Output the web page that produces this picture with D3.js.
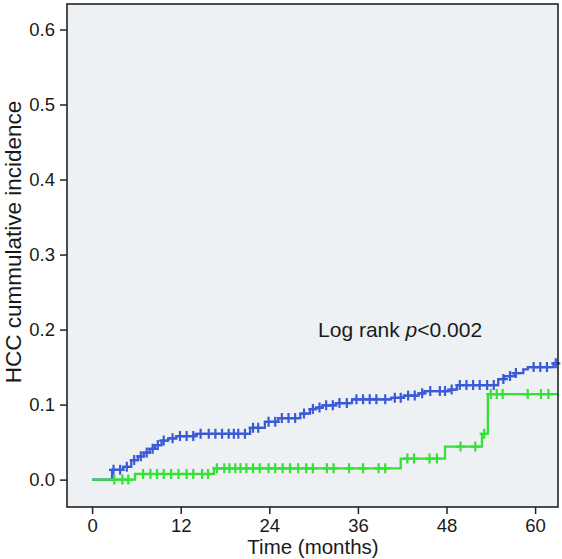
<!DOCTYPE html>
<html>
<head>
<meta charset="utf-8">
<script src="https://cdn.jsdelivr.net/npm/d3@7"></script>
<style>
  html, body { margin: 0; padding: 0; background: #ffffff; }
  svg { display: block; }
  text { font-family: "Liberation Sans", Arial, Helvetica, sans-serif; fill: #1a1a1a; }
</style>
</head>
<body>
<svg id="chart" width="562" height="559"></svg>
<script>
// ---------- data ----------
const xTicks = [0, 12, 24, 36, 48, 60];
const yTicks = [0.0, 0.1, 0.2, 0.3, 0.4, 0.5, 0.6];
const xTitle = "Time (months)";
const yTitle = "HCC cummulative incidence";

// Blue group: step times and cumulative incidence after each step
const blueStepTimes  = [0, 2.7, 4.2, 5.3, 6.2, 7.0, 7.8, 8.5, 9.4, 10.3, 11.4, 14.0, 21.4, 23.4, 25.2, 28.2, 29.5, 30.3, 31.2, 33.0, 35.2, 40.5, 42.2, 44.2, 45.0, 48.4, 49.4, 55.0, 55.8, 57.2, 58.4, 59.0, 62.5];
const blueStepValues = [0, 0.013, 0.017, 0.026, 0.031, 0.036, 0.041, 0.046, 0.052, 0.055, 0.058, 0.061, 0.069, 0.077, 0.082, 0.088, 0.094, 0.096, 0.099, 0.102, 0.107, 0.109, 0.112, 0.115, 0.118, 0.120, 0.126, 0.134, 0.138, 0.142, 0.147, 0.150, 0.155];
const blueCensored = [2.9, 3.8, 4.7, 5.7, 6.6, 7.4, 8.2, 8.9, 9.7, 10.9, 11.9, 12.8, 13.7, 14.7, 15.8, 16.7, 17.6, 18.5, 19.2, 19.8, 20.7, 21.8, 22.5, 23.9, 24.8, 25.7, 26.6, 27.5, 28.7, 29.9, 30.8, 31.7, 32.6, 33.5, 34.5, 35.8, 36.7, 37.6, 38.5, 39.7, 41.0, 41.8, 42.8, 43.7, 44.7, 45.8, 47.1, 47.8, 48.7, 49.8, 50.7, 51.6, 52.5, 53.5, 54.4, 55.7, 56.6, 57.4, 59.8, 60.7, 61.6, 62.8];

// Green group
const greenStepTimes  = [0, 5.8, 16.5, 41.8, 47.8, 52.8, 53.6, 63.1];
const greenStepValues = [0, 0.0075, 0.015, 0.028, 0.044, 0.061, 0.114, 0.114];
const greenCensored = [3.0, 4.1, 4.9, 6.9, 7.9, 8.8, 9.7, 10.7, 11.7, 12.8, 13.7, 14.9, 15.7, 16.9, 17.9, 18.6, 19.4, 20.1, 20.9, 21.8, 22.7, 23.9, 24.8, 25.8, 26.8, 27.9, 29.0, 29.9, 31.8, 32.7, 34.8, 36.7, 38.8, 39.7, 42.7, 43.6, 45.7, 46.7, 49.9, 51.9, 53.1, 54.0, 54.8, 55.6, 59.0, 60.8, 61.8];

const annotation = { pre: "Log rank ", italic: "p", post: "<0.002", t: 30.6, v: 0.19 };

// ---------- layout ----------
const svg = d3.select("#chart");
const frame = { left: 67, right: 558, top: 4, bottom: 507 };

const x = d3.scaleLinear().domain([-3.4, 63.1]).range([frame.left, frame.right]);
const y = d3.scaleLinear().domain([-0.0365, 0.634]).range([frame.bottom, frame.top]);

const blueColor = "#3a5ad8";
const greenColor = "#36e036";

// plot background
svg.append("rect")
  .attr("x", frame.left).attr("y", frame.top)
  .attr("width", frame.right - frame.left).attr("height", frame.bottom - frame.top)
  .attr("fill", "#edf1f4");

// axes
const xAxis = d3.axisBottom(x).tickValues(xTicks).tickFormat(d3.format("d")).tickSize(7).tickSizeOuter(0).tickPadding(5);
const yAxis = d3.axisLeft(y).tickValues(yTicks).tickFormat(d3.format(".1f")).tickSize(7).tickSizeOuter(0).tickPadding(5);

const gx = svg.append("g").attr("transform", `translate(0,${frame.bottom})`).call(xAxis);
const gy = svg.append("g").attr("transform", `translate(${frame.left},0)`).call(yAxis);
[gx, gy].forEach(g => {
  g.select(".domain").remove();
  g.selectAll(".tick line").attr("stroke", "#222").attr("stroke-width", 1.5);
  g.selectAll(".tick text").style("font-size", "18.5px").attr("fill", "#1a1a1a")
   .style("font-family", "'Liberation Sans', Arial, sans-serif");
});

// step helper
function stepFn(times, values) {
  return t => {
    let v = values[0];
    for (let i = 0; i < times.length; i++) { if (times[i] <= t) v = values[i]; }
    return v;
  };
}

const line = d3.line().x(d => x(d[0])).y(d => y(d[1])).curve(d3.curveStepAfter);

function drawSeries(times, values, censored, color, endT) {
  const pts = times.map((t, i) => [t, values[i]]);
  if (pts[pts.length - 1][0] < endT) pts.push([endT, values[values.length - 1]]);
  svg.append("path").datum(pts)
    .attr("d", line).attr("fill", "none")
    .attr("stroke", color).attr("stroke-width", 2.3);
  const f = stepFn(times, values);
  const g = svg.append("g").attr("stroke", color).attr("stroke-width", 2.2);
  g.selectAll("path").data(censored).join("path")
    .attr("d", t => {
      const cx = x(t), cy = y(f(t));
      return `M${cx - 4.5},${cy}H${cx + 4.5}M${cx},${cy - 5}V${cy + 5}`;
    });
}

drawSeries(blueStepTimes, blueStepValues, blueCensored, blueColor, 63.1);
drawSeries(greenStepTimes, greenStepValues, greenCensored, greenColor, 63.1);

// frame
svg.append("rect")
  .attr("x", frame.left).attr("y", frame.top)
  .attr("width", frame.right - frame.left).attr("height", frame.bottom - frame.top)
  .attr("fill", "none").attr("stroke", "#222").attr("stroke-width", 1.6);

// annotation
const ann = svg.append("text")
  .attr("x", x(annotation.t)).attr("y", y(annotation.v))
  .style("font-size", "21px");
ann.append("tspan").text(annotation.pre);
ann.append("tspan").style("font-style", "italic").text(annotation.italic);
ann.append("tspan").text(annotation.post);

// axis titles
svg.append("text")
  .attr("x", 313).attr("y", 554)
  .attr("text-anchor", "middle").style("font-size", "20.5px")
  .text(xTitle);

svg.append("text")
  .attr("transform", `translate(21,242) rotate(-90)`)
  .attr("text-anchor", "middle").style("font-size", "22.5px")
  .text(yTitle);
</script>
</body>
</html>
